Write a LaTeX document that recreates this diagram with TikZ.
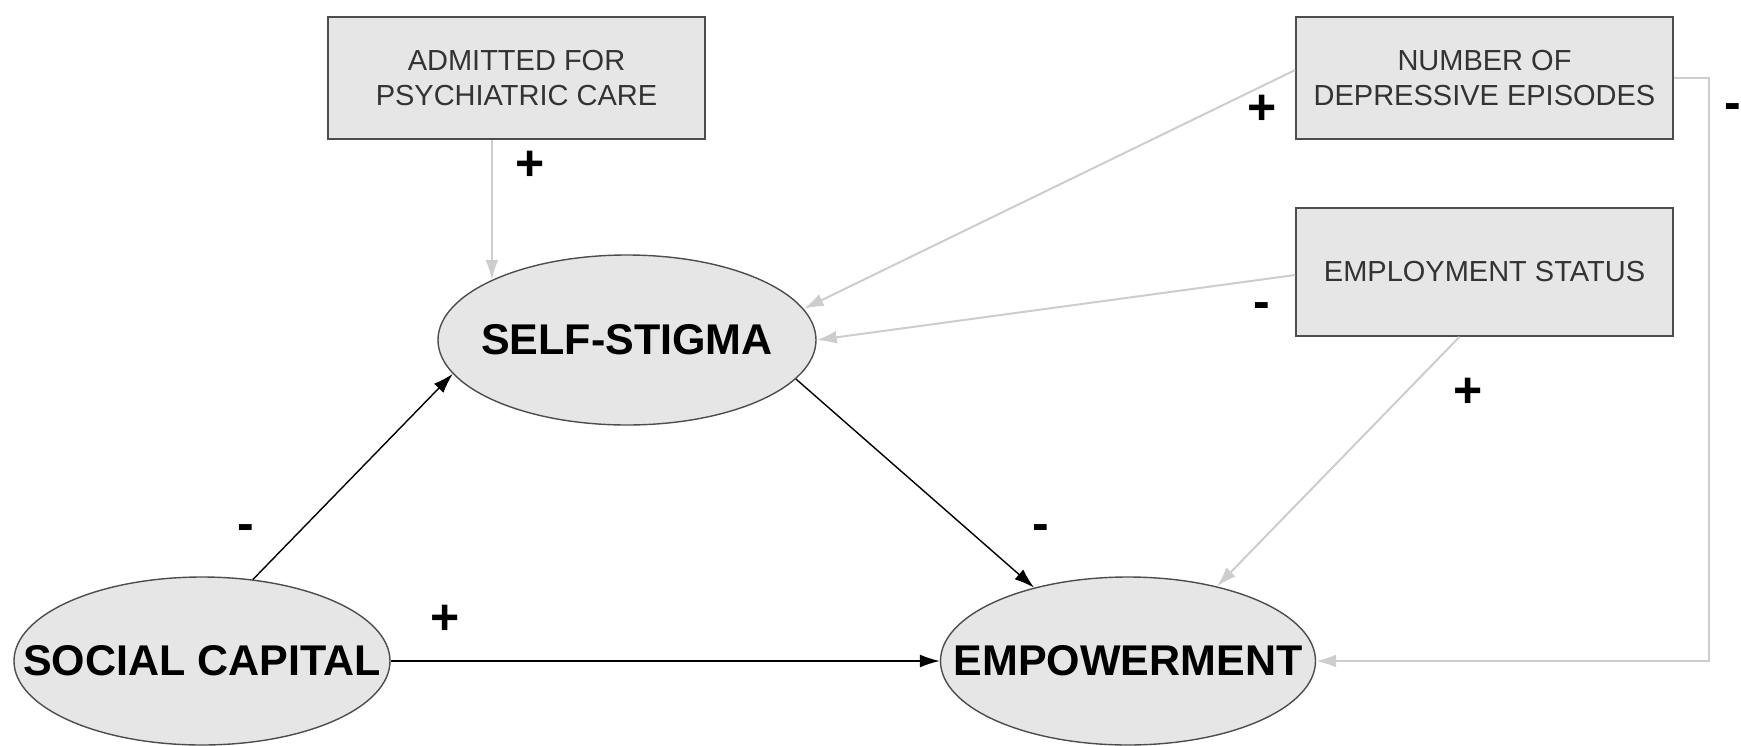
\documentclass[tikz,border=0pt]{standalone}
\usepackage{fontspec}
\setmainfont{Liberation Sans}
\usepackage{tikz}
\usetikzlibrary{shapes.geometric,arrows.meta}
\definecolor{boxfill}{HTML}{E6E6E6}
\definecolor{boxline}{HTML}{4D4D4D}
\definecolor{lightline}{HTML}{CDCDCD}
\definecolor{boxtext}{HTML}{333333}
\tikzset{
  factor/.style={draw=boxline,line width=1.6pt,fill=boxfill,minimum width=377pt,
    align=center,text=boxtext,font=\fontsize{29}{35}\selectfont},
  construct/.style={ellipse,draw=boxline,line width=1.4pt,fill=boxfill,inner sep=0pt,
    font=\bfseries\fontsize{43}{43}\selectfont},
  sign/.style={font=\bfseries\fontsize{50}{50}\selectfont,inner sep=0pt},
  path/.style={line width=1.4pt,-{Latex[length=20pt,width=13pt]}},
  minor/.style={line width=2pt,lightline,-{Latex[length=20pt,width=13pt]}}
}
\begin{document}
\begin{tikzpicture}[x=1pt,y=-1pt]
                      \useasboundingbox (0,0) rectangle (1741,745);
                      \node[factor,minimum height=122pt](adm)at(516.5,78){ADMITTED FOR\\PSYCHIATRIC CARE};
                      \node[factor,minimum height=122pt](num)at(1484.5,78){NUMBER OF\\DEPRESSIVE EPISODES};
                      \node[factor,minimum height=128pt](emp)at(1484.5,272){EMPLOYMENT STATUS};
                      \node[construct,minimum width=378pt,minimum height=170pt](stig)at(627,340){\makebox[0pt]{SELF-STIGMA}};
                      \node[construct,minimum width=376pt,minimum height=168pt](soc)at(202,661){\makebox[0pt]{SOCIAL CAPITAL}};
                      \node[construct,minimum width=375pt,minimum height=168pt](empw)at(1128,661){\makebox[0pt]{EMPOWERMENT}};
                      \draw[minor](stig.156 |- adm.south)--(stig.156);
                      \draw[minor]([yshift=8pt]num.west)--(stig.10);
                      \draw[minor]([yshift=-3pt]emp.west)--(stig.east);
                      \draw[minor]([xshift=-25pt]emp.south)--(empw.40);
                      \draw[minor](num.east)--++(35,0)|-(empw.east);
                      \draw[path](soc.58)--(stig.191);
                      \draw[path](stig.-13)--(empw.142);
                      \draw[path](soc.east)--(empw.west);
                      \node[sign](s1)at(530,166){+};
                      \node[sign](s2)at(1262,110){+};
                      \node[sign](s3)at(1733,112){-};
                      \node[sign](s4)at(1262,311){-};
                      \node[sign](s5)at(1468,393){+};
                      \node[sign](s6)at(1041,533){-};
                      \node[sign](s7)at(246,533){-};
                      \node[sign](s8)at(445,620){+};
                  \end{tikzpicture}
\end{document}
